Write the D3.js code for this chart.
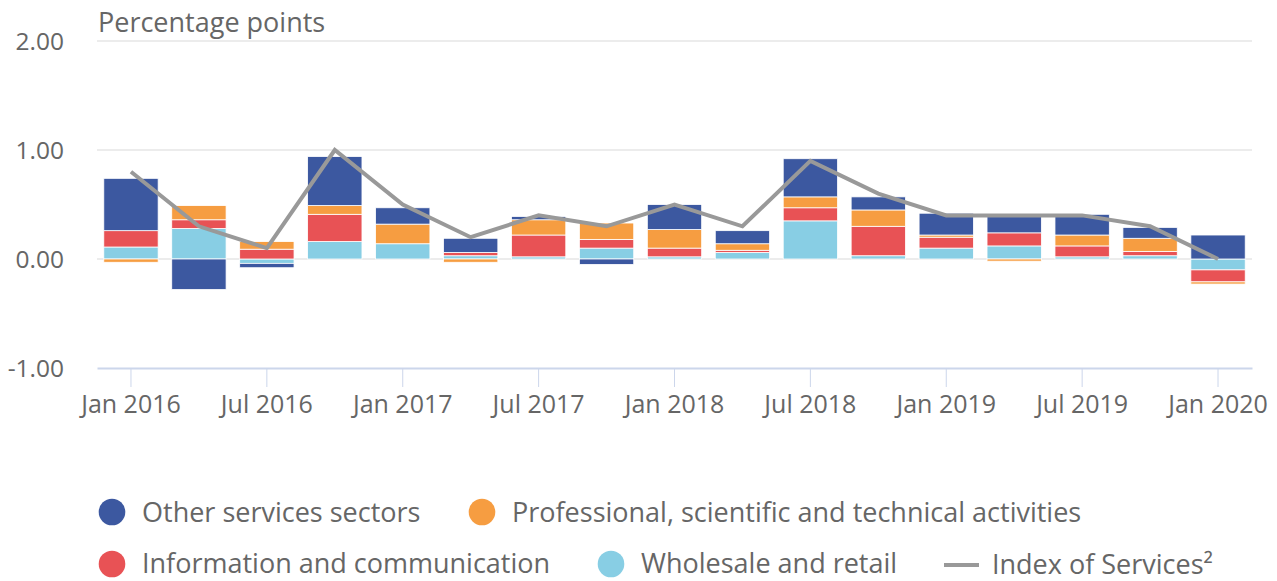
<!DOCTYPE html>
<html><head><meta charset="utf-8">
<script src="https://cdn.jsdelivr.net/npm/d3@7"></script>
<style>
html,body{margin:0;padding:0;background:#fff;}
svg{display:block;font-family:"Open Sans",sans-serif;}
</style></head>
<body>
<svg id="chart" width="1277" height="581"></svg>
<script>
const periods = ["Jan 2016","Apr 2016","Jul 2016","Oct 2016","Jan 2017","Apr 2017","Jul 2017","Oct 2017","Jan 2018","Apr 2018","Jul 2018","Oct 2018","Jan 2019","Apr 2019","Jul 2019","Oct 2019","Jan 2020"];
const tickLabels = ["Jan 2016","Jul 2016","Jan 2017","Jul 2017","Jan 2018","Jul 2018","Jan 2019","Jul 2019","Jan 2020"];
const yTicks = [-1, 0, 1, 2];
const seriesNames = ["Wholesale and retail","Information and communication","Professional, scientific and technical activities","Other services sectors"];
const wholesale    = [0.11, 0.28, -0.04, 0.16, 0.14, 0.03, 0.02, 0.10, 0.02, 0.06, 0.35, 0.03, 0.10, 0.12, 0.02, 0.03, -0.10];
const information  = [0.15, 0.08, 0.09, 0.25, 0.00, 0.03, 0.20, 0.08, 0.08, 0.02, 0.12, 0.27, 0.10, 0.12, 0.10, 0.04, -0.11];
const professional = [-0.03, 0.13, 0.07, 0.08, 0.18, -0.03, 0.14, 0.15, 0.17, 0.06, 0.10, 0.15, 0.02, -0.02, 0.10, 0.12, -0.02];
const other        = [0.48, -0.28, -0.04, 0.45, 0.15, 0.13, 0.03, -0.05, 0.23, 0.12, 0.35, 0.12, 0.20, 0.15, 0.19, 0.10, 0.22];
const indexOfServices = [0.8, 0.3, 0.1, 1.0, 0.5, 0.2, 0.4, 0.3, 0.5, 0.3, 0.9, 0.6, 0.4, 0.4, 0.4, 0.3, 0.0];

const colors = {"Wholesale and retail":"#88cee4","Information and communication":"#e85255","Professional, scientific and technical activities":"#f69d41","Other services sectors":"#3c58a0"};
const lineColor = "#999999";
const textColor = "#666666";

const svg = d3.select("#chart");
const x = d3.scaleBand().domain(periods).range([97, 1252]).paddingInner(0.2).paddingOuter(0.1);
const y = d3.scaleLinear().domain([-1, 2]).range([368, 41]);

// gridlines
svg.append("g").selectAll("line").data(yTicks.filter(d => d > -1)).join("line")
  .attr("x1", 97).attr("x2", 1252)
  .attr("y1", d => y(d)).attr("y2", d => y(d))
  .attr("stroke", "#e6e6e6").attr("stroke-width", 1.5);

// y labels
svg.append("g").selectAll("text").data(yTicks).join("text")
  .attr("x", 64).attr("y", d => y(d) + 9)
  .attr("text-anchor", "end").attr("fill", textColor).attr("font-size", 24.5)
  .text(d => d3.format(".2f")(d).replace("\u2212", "-"));

svg.append("text").attr("x", 98).attr("y", 32).attr("fill", textColor).attr("font-size", 27)
  .text("Percentage points");

// stacked bars
const table = periods.map((p, i) => ({
  period: p,
  "Wholesale and retail": wholesale[i],
  "Information and communication": information[i],
  "Professional, scientific and technical activities": professional[i],
  "Other services sectors": other[i]
}));
const stack = d3.stack().keys(seriesNames).offset(d3.stackOffsetDiverging);
const layers = stack(table);
svg.append("g").selectAll("g").data(layers).join("g")
  .attr("fill", d => colors[d.key])
  .selectAll("rect").data(d => d).join("rect")
  .attr("x", d => x(d.data.period))
  .attr("width", x.bandwidth())
  .attr("y", d => y(Math.max(d[0], d[1])))
  .attr("height", d => Math.abs(y(d[0]) - y(d[1])))
  .attr("stroke", "#ffffff").attr("stroke-width", 0.8);

// line
const line = d3.line().x((d, i) => x(periods[i]) + x.bandwidth() / 2).y(d => y(d));
svg.append("path").datum(indexOfServices)
  .attr("d", line).attr("fill", "none").attr("stroke", lineColor)
  .attr("stroke-width", 4).attr("stroke-linejoin", "miter");

// x axis
const xAxis = d3.axisBottom(x).tickValues(tickLabels).tickSize(19).tickSizeOuter(0);
const gx = svg.append("g").attr("transform", `translate(0,${y(-1)})`).call(xAxis);
gx.select(".domain").attr("stroke", "#ccd6eb").attr("stroke-width", 2);
gx.selectAll(".tick line").attr("stroke", "#ccd6eb").attr("stroke-width", 1);
gx.selectAll(".tick text").attr("fill", textColor).attr("font-size", 25)
  .attr("font-family", "Open Sans, sans-serif").attr("dy", 0).attr("y", 45);

// legend
const legendItems = [
  {name: "Other services sectors", type: "circle", color: colors["Other services sectors"], x: 112, y: 512},
  {name: "Professional, scientific and technical activities", type: "circle", color: colors["Professional, scientific and technical activities"], x: 482, y: 512},
  {name: "Information and communication", type: "circle", color: colors["Information and communication"], x: 112, y: 564},
  {name: "Wholesale and retail", type: "circle", color: colors["Wholesale and retail"], x: 611, y: 564},
  {name: "Index of Services²", type: "line", color: lineColor, x: 962, y: 565}
];
const lg = svg.append("g").selectAll("g").data(legendItems).join("g")
  .attr("transform", d => `translate(${d.x},${d.y})`);
lg.filter(d => d.type === "circle").append("circle").attr("r", 13.3).attr("fill", d => d.color);
lg.filter(d => d.type === "line").append("line").attr("x1", -18).attr("x2", 17)
  .attr("stroke", d => d.color).attr("stroke-width", 4);
lg.append("text").attr("x", 30).attr("y", d => d.y > 540 ? 8.5 : 10)
  .attr("fill", textColor).attr("font-size", 27).text(d => d.name);
</script>
</body></html>
